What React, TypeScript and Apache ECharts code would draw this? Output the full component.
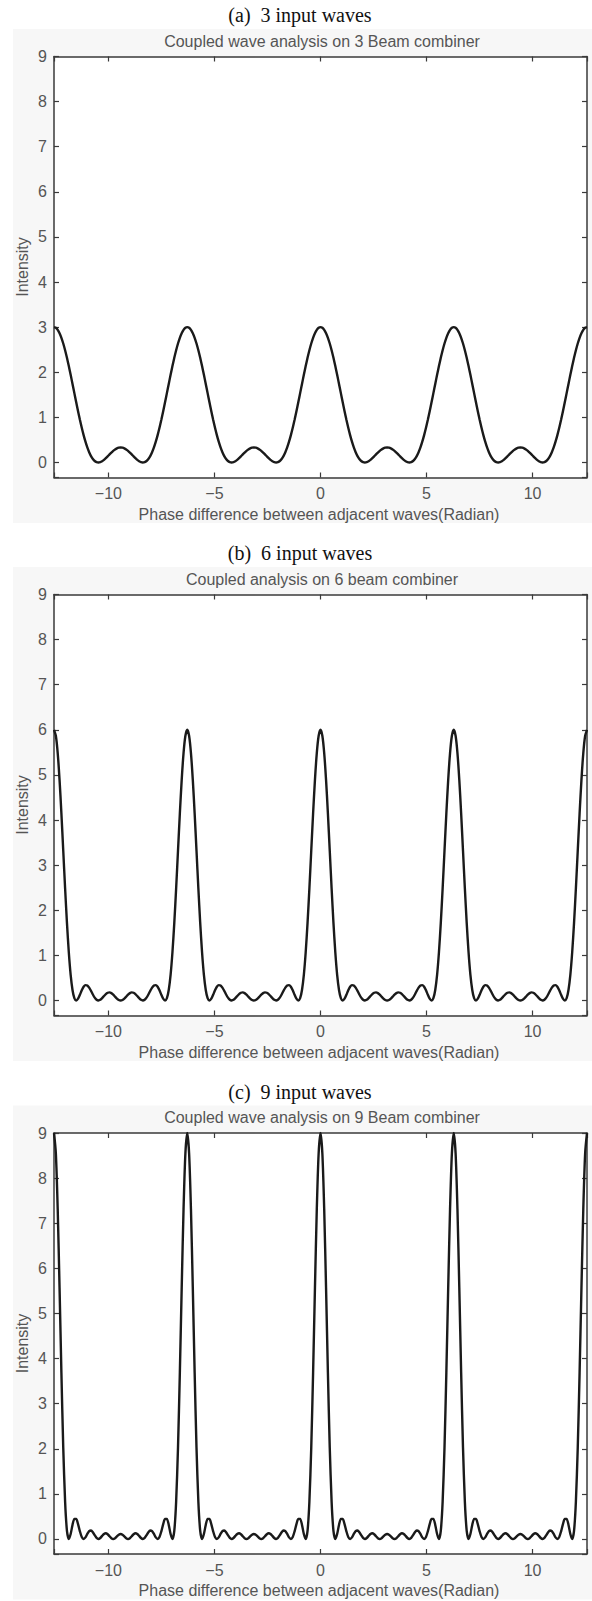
import React, { useEffect, useRef } from "react";
import * as echarts from "echarts";

// Phase sampling grid (degrees): -720° .. +720° in 5° steps  (= -4π .. 4π rad)
const PHASE_START_DEG = -720;
const PHASE_STEP_DEG = 5;

// Intensity read for 3 input waves
const intensity3 = [
  3, 2.985, 2.94, 2.865, 2.764, 2.637, 2.488, 2.32, 2.137, 1.943, 1.741, 1.537, 1.333, 1.135, 0.945, 0.768, 0.605, 0.46, 0.333, 0.227, 0.142, 0.078, 0.033, 0.008, 0, 0.007, 0.027, 0.057, 0.094, 0.136, 0.179, 0.22, 0.258, 0.289, 0.313, 0.328, 0.333, 0.328, 0.313, 0.289, 0.258, 0.22, 0.179, 0.136, 0.094, 0.057, 0.027, 0.007, 0, 0.008, 0.033, 0.078, 0.142, 0.227, 0.333, 0.46, 0.605, 0.768, 0.945, 1.135, 1.333, 1.537, 1.741, 1.943, 2.137, 2.32, 2.488, 2.637, 2.764, 2.865, 2.94, 2.985,
  3, 2.985, 2.94, 2.865, 2.764, 2.637, 2.488, 2.32, 2.137, 1.943, 1.741, 1.537, 1.333, 1.135, 0.945, 0.768, 0.605, 0.46, 0.333, 0.227, 0.142, 0.078, 0.033, 0.008, 0, 0.007, 0.027, 0.057, 0.094, 0.136, 0.179, 0.22, 0.258, 0.289, 0.313, 0.328, 0.333, 0.328, 0.313, 0.289, 0.258, 0.22, 0.179, 0.136, 0.094, 0.057, 0.027, 0.007, 0, 0.008, 0.033, 0.078, 0.142, 0.227, 0.333, 0.46, 0.605, 0.768, 0.945, 1.135, 1.333, 1.537, 1.741, 1.943, 2.137, 2.32, 2.488, 2.637, 2.764, 2.865, 2.94, 2.985,
  3, 2.985, 2.94, 2.865, 2.764, 2.637, 2.488, 2.32, 2.137, 1.943, 1.741, 1.537, 1.333, 1.135, 0.945, 0.768, 0.605, 0.46, 0.333, 0.227, 0.142, 0.078, 0.033, 0.008, 0, 0.007, 0.027, 0.057, 0.094, 0.136, 0.179, 0.22, 0.258, 0.289, 0.313, 0.328, 0.333, 0.328, 0.313, 0.289, 0.258, 0.22, 0.179, 0.136, 0.094, 0.057, 0.027, 0.007, 0, 0.008, 0.033, 0.078, 0.142, 0.227, 0.333, 0.46, 0.605, 0.768, 0.945, 1.135, 1.333, 1.537, 1.741, 1.943, 2.137, 2.32, 2.488, 2.637, 2.764, 2.865, 2.94, 2.985,
  3, 2.985, 2.94, 2.865, 2.764, 2.637, 2.488, 2.32, 2.137, 1.943, 1.741, 1.537, 1.333, 1.135, 0.945, 0.768, 0.605, 0.46, 0.333, 0.227, 0.142, 0.078, 0.033, 0.008, 0, 0.007, 0.027, 0.057, 0.094, 0.136, 0.179, 0.22, 0.258, 0.289, 0.313, 0.328, 0.333, 0.328, 0.313, 0.289, 0.258, 0.22, 0.179, 0.136, 0.094, 0.057, 0.027, 0.007, 0, 0.008, 0.033, 0.078, 0.142, 0.227, 0.333, 0.46, 0.605, 0.768, 0.945, 1.135, 1.333, 1.537, 1.741, 1.943, 2.137, 2.32, 2.488, 2.637, 2.764, 2.865, 2.94, 2.985,
  3,
];

// Intensity read for 6 input waves
const intensity6 = [
  6, 5.868, 5.485, 4.891, 4.145, 3.319, 2.488, 1.72, 1.069, 0.569, 0.233, 0.052, 0, 0.039, 0.127, 0.225, 0.303, 0.341, 0.333, 0.286, 0.213, 0.132, 0.062, 0.016, 0, 0.014, 0.051, 0.098, 0.142, 0.171, 0.179, 0.163, 0.129, 0.085, 0.042, 0.011, 0, 0.011, 0.042, 0.085, 0.129, 0.163, 0.179, 0.171, 0.142, 0.098, 0.051, 0.014, 0, 0.016, 0.062, 0.132, 0.213, 0.286, 0.333, 0.341, 0.303, 0.225, 0.127, 0.039, 0, 0.052, 0.233, 0.569, 1.069, 1.72, 2.488, 3.319, 4.145, 4.891, 5.485, 5.868,
  6, 5.868, 5.485, 4.891, 4.145, 3.319, 2.488, 1.72, 1.069, 0.569, 0.233, 0.052, 0, 0.039, 0.127, 0.225, 0.303, 0.341, 0.333, 0.286, 0.213, 0.132, 0.062, 0.016, 0, 0.014, 0.051, 0.098, 0.142, 0.171, 0.179, 0.163, 0.129, 0.085, 0.042, 0.011, 0, 0.011, 0.042, 0.085, 0.129, 0.163, 0.179, 0.171, 0.142, 0.098, 0.051, 0.014, 0, 0.016, 0.062, 0.132, 0.213, 0.286, 0.333, 0.341, 0.303, 0.225, 0.127, 0.039, 0, 0.052, 0.233, 0.569, 1.069, 1.72, 2.488, 3.319, 4.145, 4.891, 5.485, 5.868,
  6, 5.868, 5.485, 4.891, 4.145, 3.319, 2.488, 1.72, 1.069, 0.569, 0.233, 0.052, 0, 0.039, 0.127, 0.225, 0.303, 0.341, 0.333, 0.286, 0.213, 0.132, 0.062, 0.016, 0, 0.014, 0.051, 0.098, 0.142, 0.171, 0.179, 0.163, 0.129, 0.085, 0.042, 0.011, 0, 0.011, 0.042, 0.085, 0.129, 0.163, 0.179, 0.171, 0.142, 0.098, 0.051, 0.014, 0, 0.016, 0.062, 0.132, 0.213, 0.286, 0.333, 0.341, 0.303, 0.225, 0.127, 0.039, 0, 0.052, 0.233, 0.569, 1.069, 1.72, 2.488, 3.319, 4.145, 4.891, 5.485, 5.868,
  6, 5.868, 5.485, 4.891, 4.145, 3.319, 2.488, 1.72, 1.069, 0.569, 0.233, 0.052, 0, 0.039, 0.127, 0.225, 0.303, 0.341, 0.333, 0.286, 0.213, 0.132, 0.062, 0.016, 0, 0.014, 0.051, 0.098, 0.142, 0.171, 0.179, 0.163, 0.129, 0.085, 0.042, 0.011, 0, 0.011, 0.042, 0.085, 0.129, 0.163, 0.179, 0.171, 0.142, 0.098, 0.051, 0.014, 0, 0.016, 0.062, 0.132, 0.213, 0.286, 0.333, 0.341, 0.303, 0.225, 0.127, 0.039, 0, 0.052, 0.233, 0.569, 1.069, 1.72, 2.488, 3.319, 4.145, 4.891, 5.485, 5.868,
  6,
];

// Intensity read for 9 input waves
const intensity9 = [
  9, 8.552, 7.314, 5.567, 3.685, 2.024, 0.829, 0.18, 0, 0.111, 0.311, 0.445, 0.444, 0.329, 0.169, 0.044, 0, 0.036, 0.111, 0.175, 0.189, 0.151, 0.083, 0.023, 0, 0.021, 0.068, 0.111, 0.126, 0.104, 0.06, 0.017, 0, 0.017, 0.056, 0.095, 0.111, 0.095, 0.056, 0.017, 0, 0.017, 0.06, 0.104, 0.126, 0.111, 0.068, 0.021, 0, 0.023, 0.083, 0.151, 0.189, 0.175, 0.111, 0.036, 0, 0.044, 0.169, 0.329, 0.444, 0.445, 0.311, 0.111, 0, 0.18, 0.829, 2.024, 3.685, 5.567, 7.314, 8.552,
  9, 8.552, 7.314, 5.567, 3.685, 2.024, 0.829, 0.18, 0, 0.111, 0.311, 0.445, 0.444, 0.329, 0.169, 0.044, 0, 0.036, 0.111, 0.175, 0.189, 0.151, 0.083, 0.023, 0, 0.021, 0.068, 0.111, 0.126, 0.104, 0.06, 0.017, 0, 0.017, 0.056, 0.095, 0.111, 0.095, 0.056, 0.017, 0, 0.017, 0.06, 0.104, 0.126, 0.111, 0.068, 0.021, 0, 0.023, 0.083, 0.151, 0.189, 0.175, 0.111, 0.036, 0, 0.044, 0.169, 0.329, 0.444, 0.445, 0.311, 0.111, 0, 0.18, 0.829, 2.024, 3.685, 5.567, 7.314, 8.552,
  9, 8.552, 7.314, 5.567, 3.685, 2.024, 0.829, 0.18, 0, 0.111, 0.311, 0.445, 0.444, 0.329, 0.169, 0.044, 0, 0.036, 0.111, 0.175, 0.189, 0.151, 0.083, 0.023, 0, 0.021, 0.068, 0.111, 0.126, 0.104, 0.06, 0.017, 0, 0.017, 0.056, 0.095, 0.111, 0.095, 0.056, 0.017, 0, 0.017, 0.06, 0.104, 0.126, 0.111, 0.068, 0.021, 0, 0.023, 0.083, 0.151, 0.189, 0.175, 0.111, 0.036, 0, 0.044, 0.169, 0.329, 0.444, 0.445, 0.311, 0.111, 0, 0.18, 0.829, 2.024, 3.685, 5.567, 7.314, 8.552,
  9, 8.552, 7.314, 5.567, 3.685, 2.024, 0.829, 0.18, 0, 0.111, 0.311, 0.445, 0.444, 0.329, 0.169, 0.044, 0, 0.036, 0.111, 0.175, 0.189, 0.151, 0.083, 0.023, 0, 0.021, 0.068, 0.111, 0.126, 0.104, 0.06, 0.017, 0, 0.017, 0.056, 0.095, 0.111, 0.095, 0.056, 0.017, 0, 0.017, 0.06, 0.104, 0.126, 0.111, 0.068, 0.021, 0, 0.023, 0.083, 0.151, 0.189, 0.175, 0.111, 0.036, 0, 0.044, 0.169, 0.329, 0.444, 0.445, 0.311, 0.111, 0, 0.18, 0.829, 2.024, 3.685, 5.567, 7.314, 8.552,
  9,
];

const captions = ["(a)  3 input waves", "(b)  6 input waves", "(c)  9 input waves"];
const titles = [
  "Coupled wave analysis on 3 Beam combiner",
  "Coupled analysis on 6 beam combiner",
  "Coupled wave analysis on 9 Beam combiner",
];
const xAxisName = "Phase difference between adjacent waves(Radian)";
const yAxisName = "Intensity";
const xTickLabels = [-10, -5, 0, 5, 10];
const yTickLabels = [0, 1, 2, 3, 4, 5, 6, 7, 8, 9];

const X_MIN = -4 * Math.PI;
const X_MAX = 4 * Math.PI;
const Y_MIN = -1 / 3;
const Y_MAX = 9;

const W = 592;
const H = 1601;
const PANEL_OFFSETS = [0, 538, 1076.5];
const GRID_LEFT = 54;
const GRID_TOP = 56.5;
const GRID_W = 533;
const GRID_H = 421;

const SANS = "'Liberation Sans', Arial, sans-serif";
const SERIF = "'Liberation Serif', 'Times New Roman', serif";
const AXIS_COLOR = "#3a3a3a";
const LABEL_COLOR = "#555";

export default function App() {
  const ref = useRef<HTMLDivElement>(null);

  useEffect(() => {
    if (!ref.current) return;
    const chart = echarts.init(ref.current, undefined, { renderer: "svg" });

    const seriesData = [intensity3, intensity6, intensity9];
    const toPairs = (vals: number[]) =>
      vals.map((v, i) => [((PHASE_START_DEG + i * PHASE_STEP_DEG) * Math.PI) / 180, v]);

    const isNear = (v: number, list: number[]) => list.some((t) => Math.abs(t - v) < 1e-6);
    const xFmt = (v: number) => (isNear(v, xTickLabels) ? String(Math.round(v)).replace("-", "\u2212") : "");
    const yFmt = (v: number) => (isNear(v, yTickLabels) ? String(Math.round(v)) : "");

    const grids: any[] = [];
    const xAxes: any[] = [];
    const yAxes: any[] = [];
    const series: any[] = [];
    const graphics: any[] = [];

    const lineStyle = { color: AXIS_COLOR, width: 1.5 };
    const tick = { inside: true, length: 5, lineStyle: { color: AXIS_COLOR, width: 1.2 } };

    PANEL_OFFSETS.forEach((off, i) => {
      grids.push({ left: GRID_LEFT, top: GRID_TOP + off, width: GRID_W, height: GRID_H, containLabel: false });
      const xBase = {
        type: "value",
        gridIndex: i,
        min: X_MIN,
        max: X_MAX,
        minInterval: 5,
        maxInterval: 5,
        splitNumber: 5,
        splitLine: { show: false },
        axisLine: { show: true, onZero: false, lineStyle },
        axisTick: tick,
      };
      xAxes.push({
        ...xBase,
        position: "bottom",
        axisLabel: { color: LABEL_COLOR, fontSize: 16, fontFamily: SANS, margin: 8, formatter: xFmt },
      });
      xAxes.push({ ...xBase, position: "top", axisLabel: { show: false } });
      const yBase = {
        type: "value",
        gridIndex: i,
        min: Y_MIN,
        max: Y_MAX,
        minInterval: 1,
        maxInterval: 1,
        splitNumber: 9,
        splitLine: { show: false },
        axisLine: { show: true, onZero: false, lineStyle },
        axisTick: tick,
      };
      yAxes.push({
        ...yBase,
        position: "left",
        axisLabel: { color: LABEL_COLOR, fontSize: 16, fontFamily: SANS, margin: 7, formatter: yFmt },
      });
      yAxes.push({ ...yBase, position: "right", axisLabel: { show: false } });

      series.push({
        type: "line",
        xAxisIndex: i * 2,
        yAxisIndex: i * 2,
        data: toPairs(seriesData[i]),
        showSymbol: false,
        symbol: "none",
        smooth: 0.25,
        clip: true,
        lineStyle: { color: "#1a1a1a", width: 2.4 },
        z: 3,
      });

      // figure background (light grey) and white plot area
      graphics.push({
        type: "rect",
        z: -20,
        shape: { x: 13, y: off + 29, width: W - 13, height: 494 },
        style: { fill: "#f7f7f7" },
      });
      graphics.push({
        type: "rect",
        z: -19,
        shape: { x: GRID_LEFT, y: GRID_TOP + off, width: GRID_W, height: GRID_H },
        style: { fill: "#ffffff" },
      });
      graphics.push({
        type: "text",
        z: 10,
        x: 300,
        y: off + 15,
        style: {
          text: captions[i],
          font: `20px ${SERIF}`,
          fill: "#111",
          textAlign: "center",
          textVerticalAlign: "middle",
        },
      });
      graphics.push({
        type: "text",
        z: 10,
        x: 322,
        y: off + 41,
        style: {
          text: titles[i],
          font: `16px ${SANS}`,
          fill: LABEL_COLOR,
          textAlign: "center",
          textVerticalAlign: "middle",
        },
      });
      graphics.push({
        type: "text",
        z: 10,
        x: 319,
        y: off + 514,
        style: {
          text: xAxisName,
          font: `16px ${SANS}`,
          fill: LABEL_COLOR,
          textAlign: "center",
          textVerticalAlign: "middle",
        },
      });
      graphics.push({
        type: "text",
        z: 10,
        x: 22,
        y: off + 267,
        rotation: Math.PI / 2,
        style: {
          text: yAxisName,
          font: `16px ${SANS}`,
          fill: LABEL_COLOR,
          textAlign: "center",
          textVerticalAlign: "middle",
        },
      });
    });

    chart.setOption({
      animation: false,
      backgroundColor: "#ffffff",
      grid: grids,
      xAxis: xAxes,
      yAxis: yAxes,
      series,
      graphic: { elements: graphics },
    });

    return () => chart.dispose();
  }, []);

  return (
    <div
      ref={ref}
      style={{ position: "absolute", left: 0, top: 0, width: W, height: H }}
    />
  );
}
